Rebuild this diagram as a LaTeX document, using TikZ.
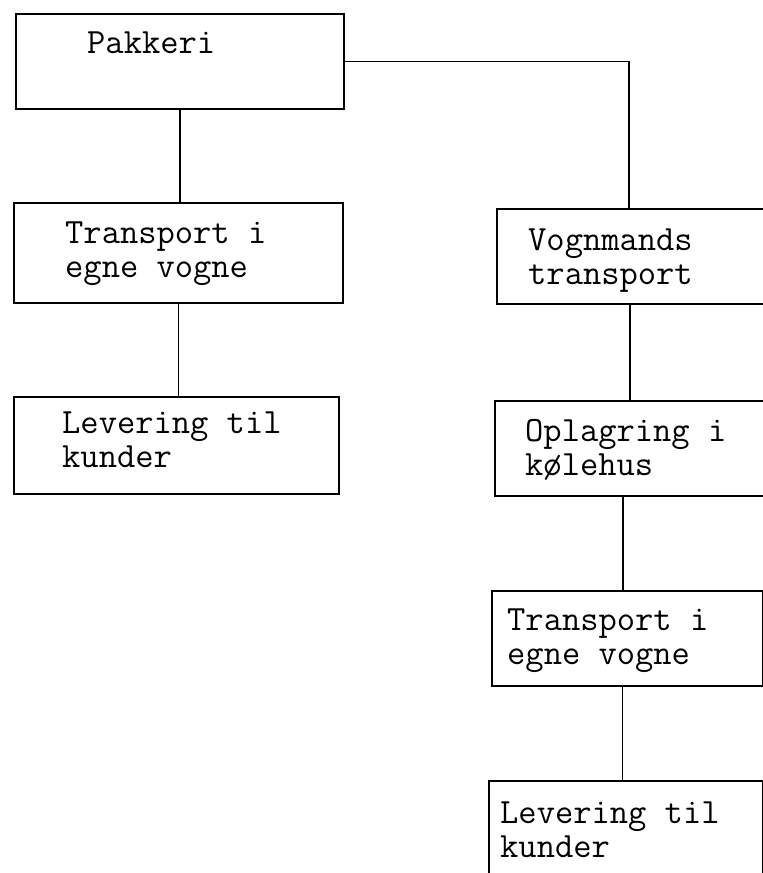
\documentclass[tikz,border=0pt]{standalone}
\usepackage{fontspec}
\usetikzlibrary{positioning}
\begin{document}
\begin{tikzpicture}[x=1pt,y=-1pt,
  box/.style={draw, line width=2.2pt, anchor=north west, inner sep=0pt},
  txt/.style={anchor=north west, inner sep=0pt, align=left,
    font=\fontsize{35.5}{34}\selectfont\ttfamily},
  con/.style={line width=1.5pt}]
\useasboundingbox (0,0) rectangle (763,873);
\clip (0,0) rectangle (763,873);
% left branch
\node [box, minimum width=328pt, minimum height=95pt] (pak) at (15,13) {};
\node [box, minimum width=329pt, minimum height=100pt] (tl) at (13,202) {};
\node [box, minimum width=325pt, minimum height=97pt] (ll) at (13,396) {};
% right branch
\node [box, minimum width=276pt, minimum height=95pt] (vog) at (496,208) {};
\node [box, minimum width=278pt, minimum height=95pt] (opl) at (494,400) {};
\node [box, minimum width=271pt, minimum height=95pt] (tr) at (491,590) {};
\node [box, minimum width=274pt, minimum height=120pt] (lr) at (488,780) {};

\node [txt, below right=19pt and 72pt of pak.north west] (pakt) {Pakkeri};
\node [txt, below right=20pt and 52pt of tl.north west] (tlt) {Transport i\\egne vogne};
\node [txt, below right=16pt and 49pt of ll.north west] (llt) {Levering til\\kunder};
\node [txt, below right=21pt and 32pt of vog.north west] (vogt) {Vognmands\\transport};
\node [txt, below right=19pt and 31pt of opl.north west] (oplt) {Oplagring i\\kølehus};
\node [txt, below right=19pt and 16pt of tr.north west] (trt) {Transport i\\egne vogne};
\node [txt, below right=22pt and 12pt of lr.north west] (lrt) {Levering til\\kunder};

\draw [con] (pak.south) -- (pak.south |- tl.north);
\draw [con] (tl.south) -- (tl.south |- ll.north);
\draw [con] (pak.east) -| ([xshift=-6pt]vog.north);
\draw [con] ([xshift=-5pt]vog.south) -- ([xshift=-5pt]vog.south |- opl.north);
\draw [con] ([xshift=-11pt]opl.south) -- ([xshift=-11pt]opl.south |- tr.north);
\draw [con] ([xshift=-5pt]tr.south) -- ([xshift=-5pt]tr.south |- lr.north);
\end{tikzpicture}
\end{document}
